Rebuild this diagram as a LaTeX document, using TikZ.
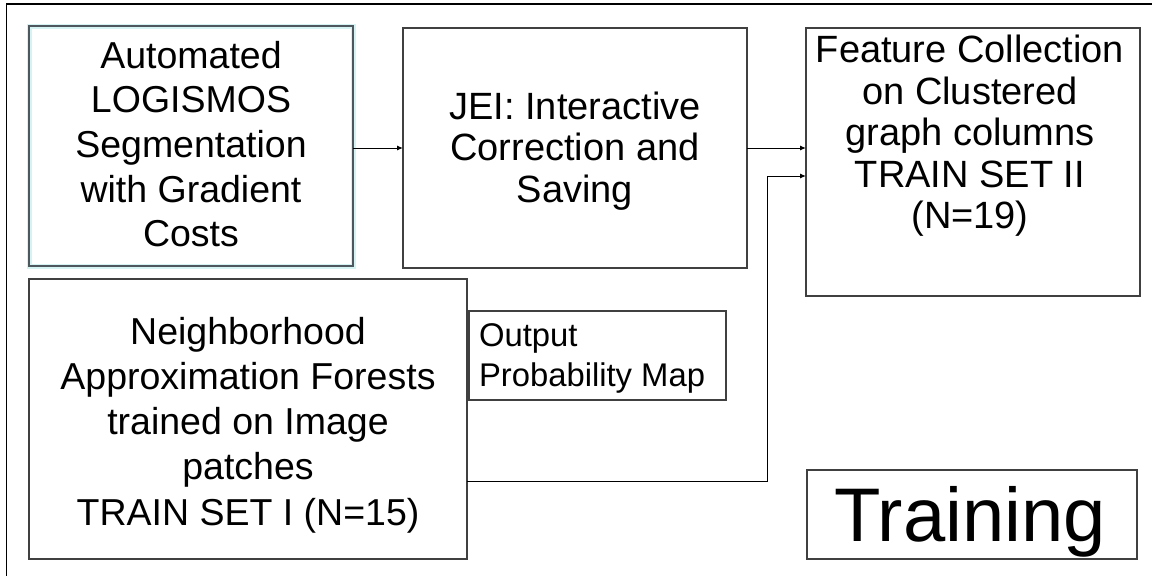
\documentclass[tikz,border=0pt]{standalone}
\usepackage{fontspec}
\setmainfont{Liberation Sans}
\usetikzlibrary{arrows.meta,calc}
\definecolor{boxline}{RGB}{64,64,64}
\definecolor{bluishline}{RGB}{78,86,94}
\definecolor{glow}{RGB}{214,243,243}
\tikzset{
  box/.style={rectangle, draw=boxline, line width=1.2pt, inner sep=0pt, outer sep=0pt},
  txt/.style={inner sep=0pt, outer sep=0pt, align=center, text=black},
  bigtxt/.style={font=\fontsize{37.5}{44.6}\selectfont},
  midtxt/.style={font=\fontsize{38}{41.5}\selectfont},
  conn/.style={line width=1pt, -{Latex[length=6pt,width=5pt]}}
}
\begin{document}
\begin{tikzpicture}[x=1pt,y=-1pt]
\useasboundingbox (0,0) rectangle (1152,576);
% frame edges
\draw[line width=1.5pt] (6.5,576) -- (6.5,4) -- (1152,4);

% boxes
\draw[glow, line width=5pt] (29,26) rectangle (353,266);
\node[box, draw=bluishline, minimum width=324pt, minimum height=240pt] (A) at (191,146) {};
\node[box, minimum width=344pt, minimum height=240pt] (B) at (575,148) {};
\node[box, minimum width=334pt, minimum height=268pt] (C) at (973,162) {};
\node[box, minimum width=438pt, minimum height=280pt] (D) at (248,419) {};
\node[box, minimum width=257pt, minimum height=89pt] (E) at (597.5,355.5) {};
\node[box, minimum width=330pt, minimum height=89pt] (F) at (972,514.5) {};

% box texts
\node[txt, bigtxt] (At) at (191,144) {Automated\\LOGISMOS\\Segmentation\\with Gradient\\Costs};
\node[txt, midtxt] (Bt) at (575,151) {JEI: Interactive\\Correction and\\Saving};
\node[txt, midtxt] (Ct) at (970,136) {Feature Collection\\on Clustered\\graph columns\\TRAIN SET II\\(N=19)};
\node[txt, font=\fontsize{37.5}{45.2}\selectfont] (Dt) at (248,425) {Neighborhood\\Approximation Forests\\trained on Image\\patches\\TRAIN SET I (N=15)};
\node[txt, align=left, anchor=west, font=\fontsize{32.8}{40.7}\selectfont] (Et) at (479,358.5) {Output\\Probability Map};
\node[txt, font=\fontsize{76}{80}\selectfont] (Ft) at (970,522) {Training};

% connectors
\coordinate (dy) at (0,481);
\coordinate (j) at (767,176);
\draw[conn] (A.east |- B.west) -- (B.west);
\draw[conn] (B.east) -- (B.east -| C.west);
\draw[conn] (D.east |- dy) -| (j) -- (C.west |- j);
\end{tikzpicture}
\end{document}
